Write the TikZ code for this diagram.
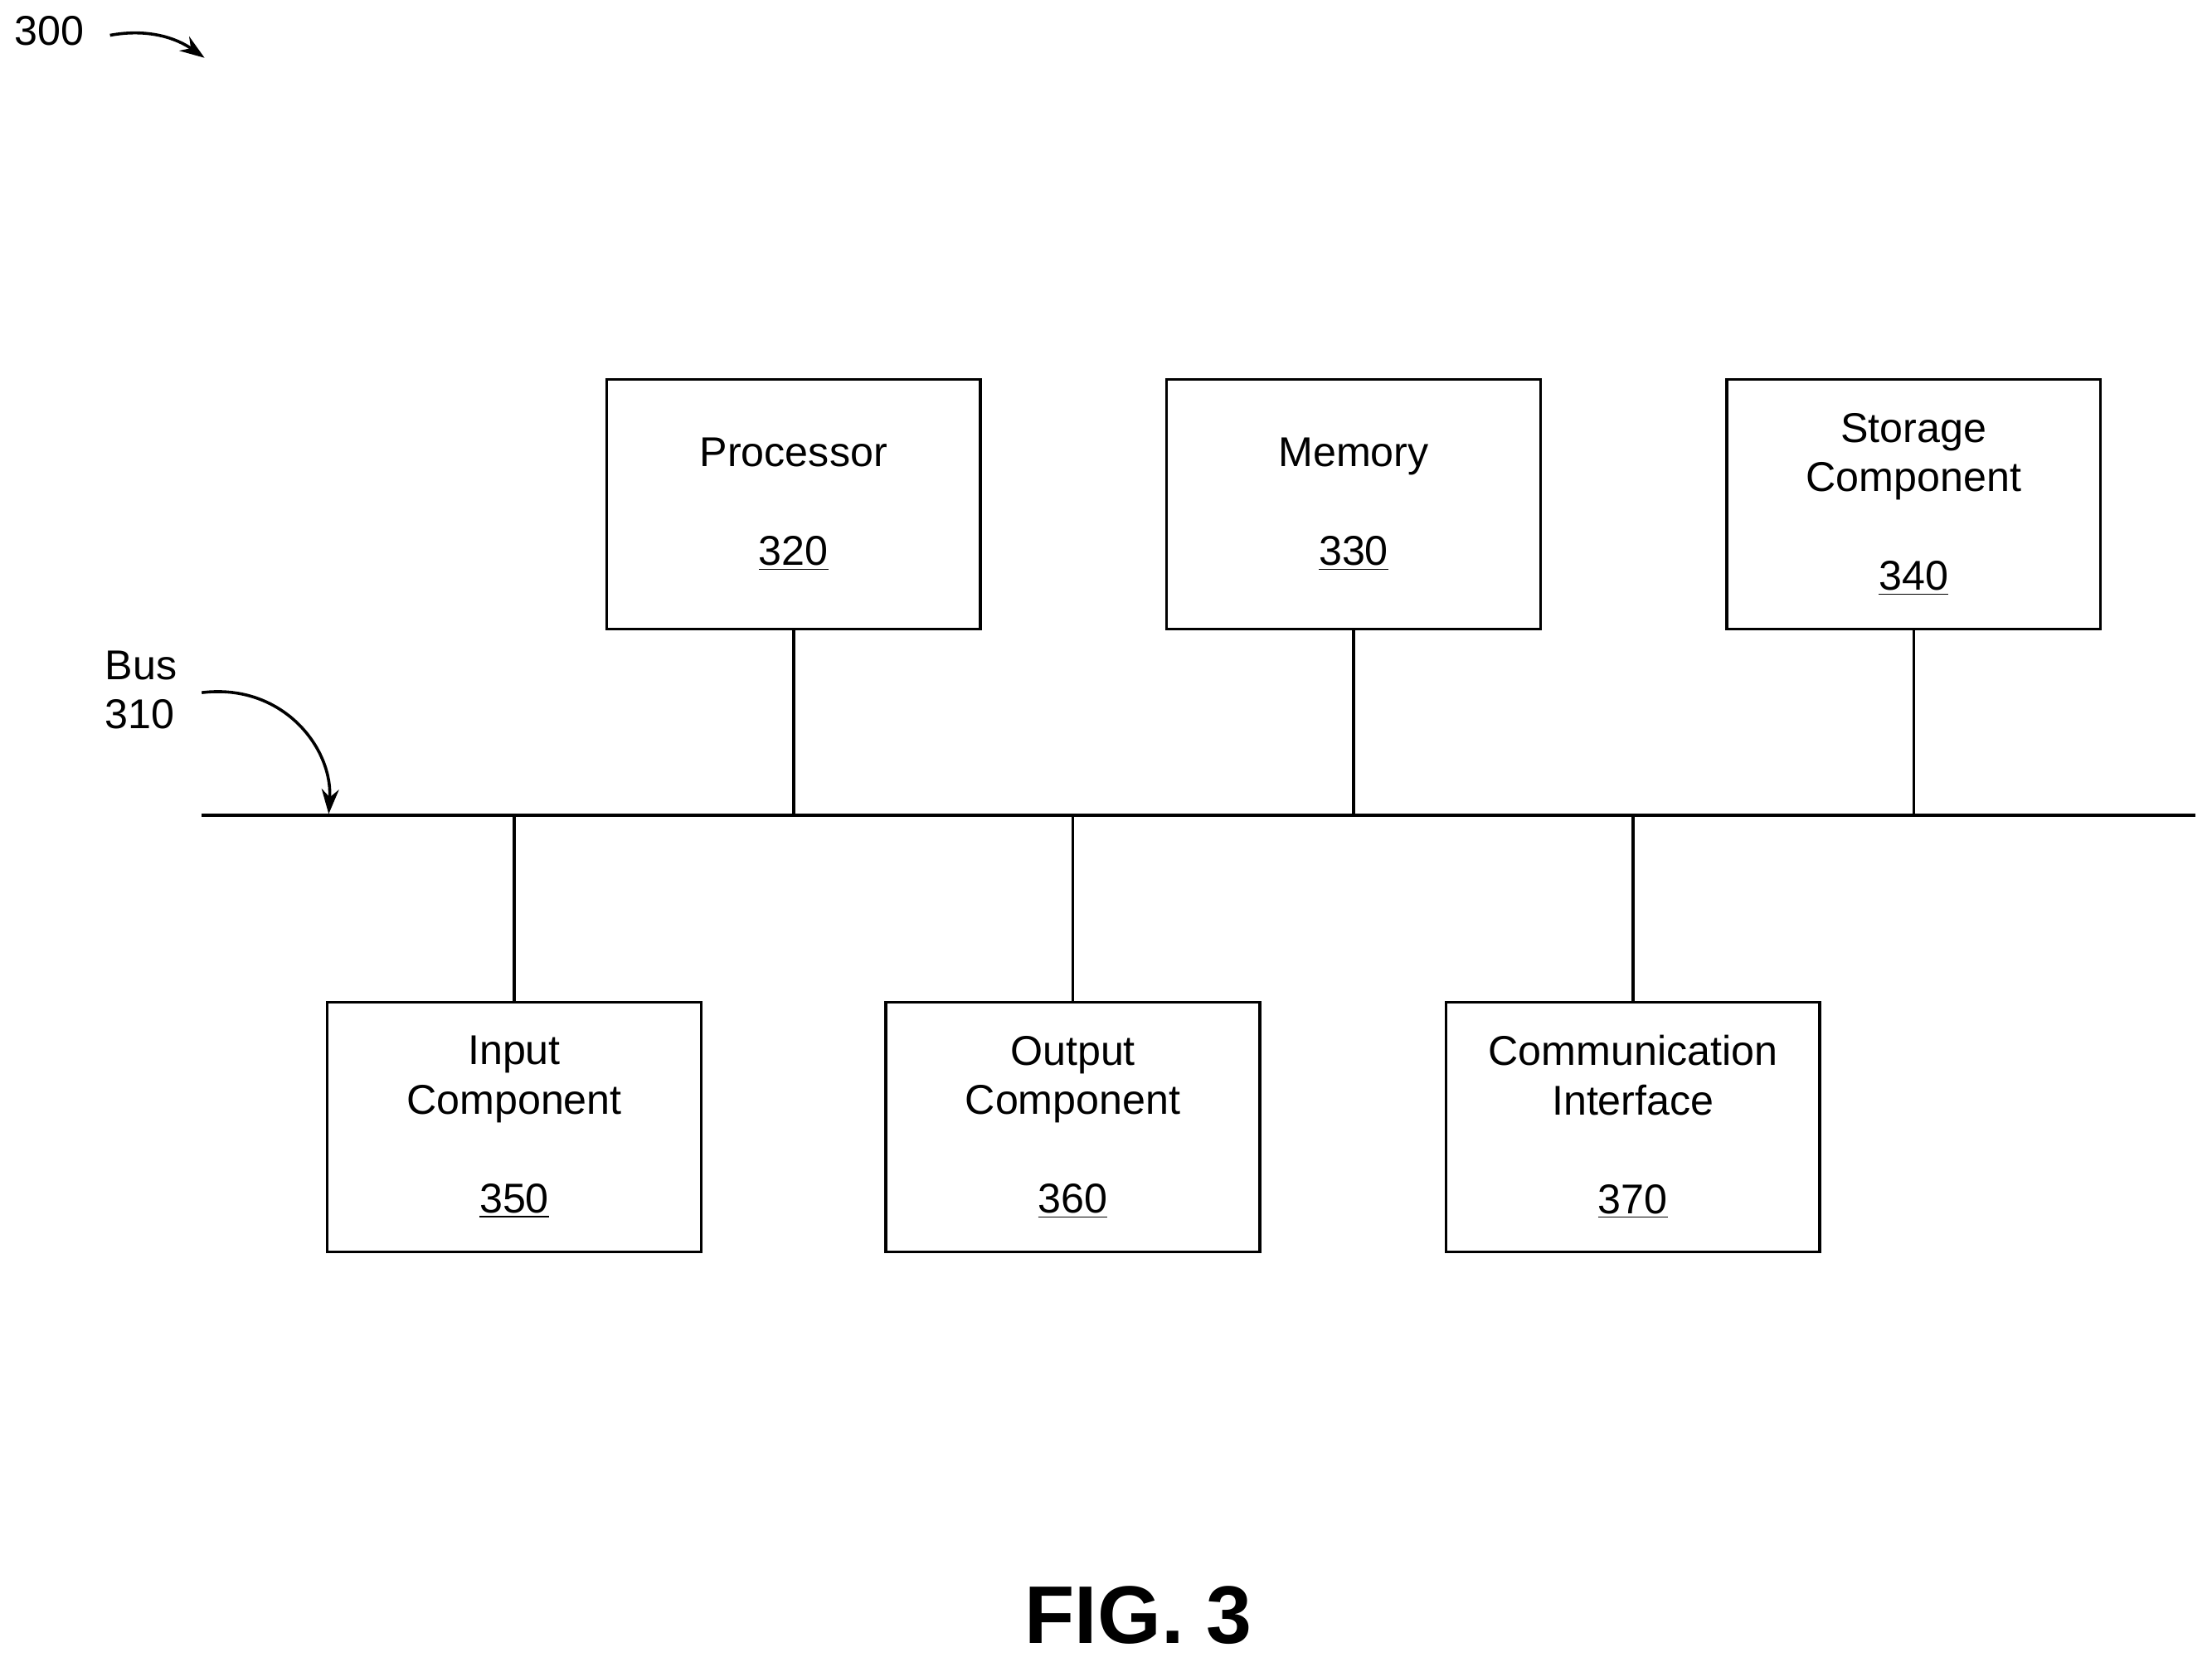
\documentclass[tikz,border=0pt]{standalone}
\usepackage{fontspec}
\setmainfont{Liberation Sans}
\usetikzlibrary{positioning}
\usetikzlibrary{arrows.meta}

\tikzset{
  unit/.style={draw, line width=1.2pt, minimum width=5.3cm, minimum height=3.54cm,
    align=center, inner sep=0pt, font=\fontsize{16.8}{19.9}\selectfont},
  lbl/.style={align=left, inner sep=0pt, font=\fontsize{16.8}{19.9}\selectfont},
}

\begin{document}
\begin{tikzpicture}[x=0.02cm, y=-0.02cm, line width=1.2pt]
  \useasboundingbox (0,0) rectangle (1568,1178);

  % top row
  \node[unit] (proc) at (562.5,357.5) {Processor\\[19.9pt]\underline{320}};
  \node[unit] (mem) at (959.5,357.5) {Memory\\[19.9pt]\underline{330}};
  \node[unit] (stor) at (1356.5,357.5) {Storage\\Component\\[19.9pt]\underline{340}};

  % bottom row
  \node[unit] (inp) at (364.5,799) {Input\\Component\\[19.9pt]\underline{350}};
  \node[unit] (outp) at (760.5,799) {Output\\Component\\[19.9pt]\underline{360}};
  \node[unit] (comm) at (1157.5,799) {Communication\\Interface\\[19.9pt]\underline{370}};

  % bus
  \coordinate (busl) at (143,578);
  \coordinate (busr) at (1556,578);
  \draw (busl) -- (busr);
  \foreach \n in {proc,mem,stor}
    \draw (\n.south) -- (\n.south |- busl);
  \foreach \n in {inp,outp,comm}
    \draw (\n.north) -- (\n.north |- busl);

  \node[lbl] (buslbl) at (100,489) {Bus\\310};
  \coordinate (bustip) at (233,577);
  \draw[-{Stealth[length=10pt,width=7pt]}] (143,491) .. controls (200,484) and (236,530) .. (bustip);

  \node[lbl] (fig) at (35,22) {300};
  \draw[-{Stealth[length=10pt,width=7pt]}] (78,25) .. controls (105,20) and (125,27) .. (145,41);

  \node[font=\bfseries\fontsize{33}{38}\selectfont] (title) at (807,1145) {FIG. 3};
\end{tikzpicture}
\end{document}
